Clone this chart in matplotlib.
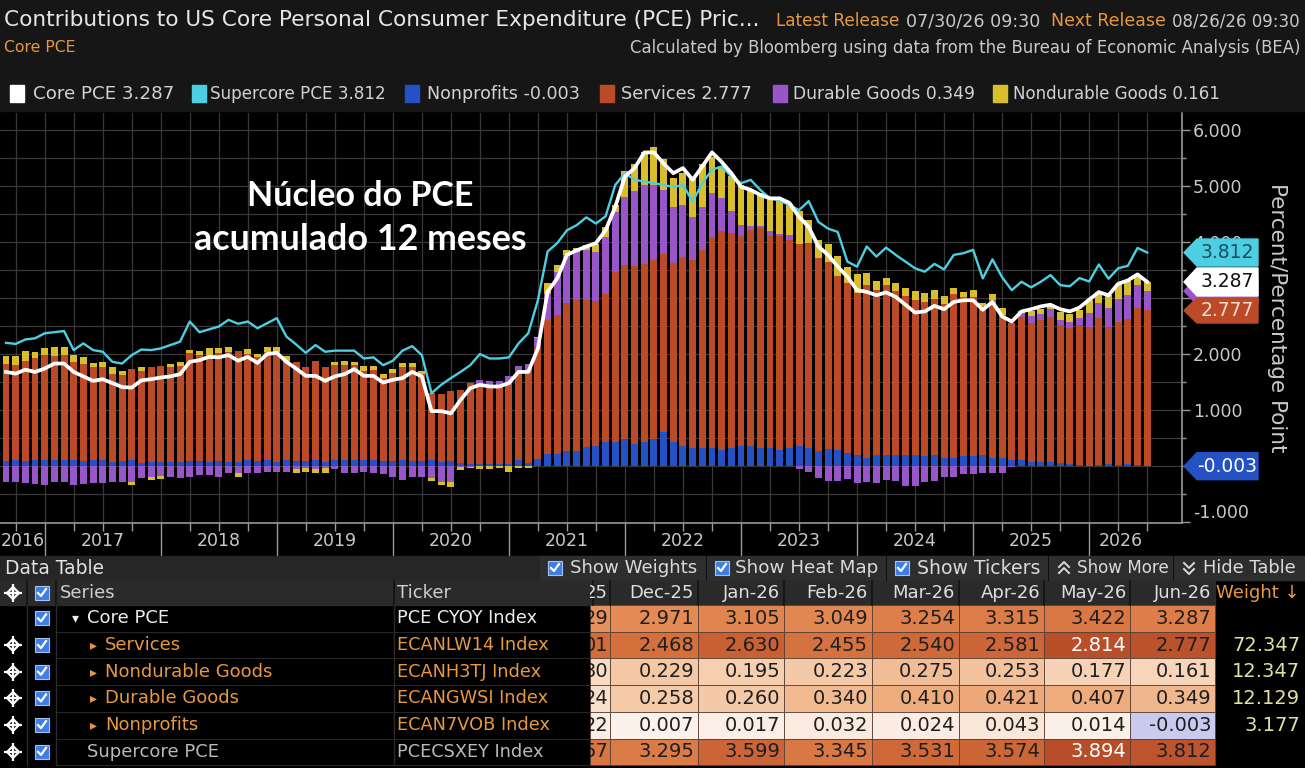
import numpy as np
import pandas as pd
import matplotlib
matplotlib.use("Agg")
import matplotlib.pyplot as plt
from matplotlib.patches import Rectangle, Polygon
from matplotlib.colors import LinearSegmentedColormap
from matplotlib.transforms import Bbox, blended_transform_factory

plt.rcParams['font.family'] = ['DejaVu Sans']

# ---------------- data ----------------
start_month = "2016-08"

core = [
    1.68, 1.65, 1.72, 1.68, 1.74, 1.83, 1.83, 1.68, 1.60, 1.52,
    1.55, 1.48, 1.41, 1.40, 1.53, 1.55, 1.58, 1.60, 1.64, 1.86,
    1.89, 1.95, 1.94, 1.98, 1.88, 1.95, 1.84, 2.00, 2.02, 1.86,
    1.74, 1.61, 1.61, 1.52, 1.60, 1.64, 1.73, 1.61, 1.61, 1.49,
    1.54, 1.57, 1.68, 1.60, 0.98, 0.98, 0.94, 1.18, 1.39, 1.45,
    1.42, 1.42, 1.48, 1.68, 1.68, 2.10, 3.11, 3.35, 3.77, 3.85,
    3.92, 3.98, 4.21, 4.63, 5.17, 5.32, 5.60, 5.60, 5.40, 5.23,
    5.32, 5.11, 5.35, 5.60, 5.43, 5.23, 4.99, 4.93, 4.84, 4.78,
    4.78, 4.70, 4.45, 4.27, 3.92, 3.77, 3.56, 3.38, 3.14, 3.11,
    3.05, 3.10, 3.02, 2.88, 2.74, 2.76, 2.86, 2.80, 2.93, 2.96,
    2.96, 2.79, 2.93, 2.67, 2.58, 2.76, 2.80, 2.85, 2.88, 2.80,
    2.76, 2.829, 2.971, 3.105, 3.049, 3.254, 3.315, 3.422, 3.287]

supercore = [
    2.20, 2.18, 2.26, 2.28, 2.37, 2.39, 2.41, 2.07, 2.19, 2.07,
    2.04, 1.86, 1.83, 1.98, 2.08, 2.07, 2.10, 2.16, 2.22, 2.58,
    2.39, 2.44, 2.49, 2.61, 2.54, 2.58, 2.46, 2.55, 2.64, 2.31,
    2.17, 2.02, 2.16, 2.04, 2.06, 2.06, 2.06, 1.92, 1.94, 1.80,
    1.88, 2.06, 2.14, 1.98, 1.30, 1.45, 1.57, 1.68, 1.80, 2.00,
    1.92, 1.92, 1.94, 2.19, 2.37, 2.96, 3.83, 3.98, 4.21, 4.30,
    4.44, 4.33, 4.46, 5.02, 5.23, 5.11, 5.08, 5.05, 5.02, 4.98,
    5.02, 4.72, 5.05, 5.29, 5.35, 5.17, 5.05, 5.11, 4.93, 4.78,
    4.74, 4.66, 4.57, 4.73, 4.36, 4.24, 4.18, 3.65, 3.56, 3.92,
    3.74, 3.90, 3.77, 3.65, 3.53, 3.47, 3.61, 3.51, 3.77, 3.80,
    3.86, 3.35, 3.69, 3.37, 3.14, 3.29, 3.19, 3.29, 3.41, 3.23,
    3.21, 3.357, 3.295, 3.599, 3.345, 3.531, 3.574, 3.894, 3.812]

nonprofits = [
    0.09, 0.10, 0.09, 0.11, 0.11, 0.10, 0.11, 0.10, 0.09, 0.10,
    0.10, 0.08, 0.09, 0.10, 0.06, 0.07, 0.07, 0.08, 0.08, 0.09,
    0.09, 0.08, 0.09, 0.08, 0.07, 0.10, 0.09, 0.10, 0.08, 0.10,
    0.09, 0.09, 0.10, 0.08, 0.10, 0.11, 0.10, 0.10, 0.10, 0.09,
    0.09, 0.10, 0.09, 0.09, 0.10, 0.07, 0.09, 0.05, 0.04, 0.04,
    0.03, 0.03, 0.04, 0.10, 0.06, 0.12, 0.21, 0.21, 0.26, 0.26,
    0.34, 0.36, 0.43, 0.43, 0.48, 0.40, 0.43, 0.49, 0.61, 0.43,
    0.35, 0.33, 0.32, 0.32, 0.29, 0.32, 0.35, 0.35, 0.32, 0.32,
    0.29, 0.32, 0.35, 0.32, 0.26, 0.30, 0.29, 0.24, 0.20, 0.14,
    0.19, 0.19, 0.20, 0.20, 0.19, 0.17, 0.20, 0.14, 0.15, 0.18,
    0.18, 0.20, 0.15, 0.14, 0.11, 0.11, 0.08, 0.08, 0.08, 0.06,
    0.04, 0.022, 0.007, 0.017, 0.032, 0.024, 0.043, 0.014, -0.003]

services = [
    1.73, 1.71, 1.78, 1.81, 1.87, 1.87, 1.88, 1.75, 1.73, 1.66,
    1.67, 1.56, 1.54, 1.64, 1.64, 1.70, 1.72, 1.68, 1.70, 1.92,
    1.90, 1.91, 1.93, 1.96, 1.98, 1.90, 1.85, 1.93, 1.95, 1.78,
    1.77, 1.68, 1.77, 1.68, 1.71, 1.70, 1.70, 1.60, 1.61, 1.49,
    1.57, 1.67, 1.68, 1.55, 1.20, 1.22, 1.25, 1.30, 1.45, 1.40,
    1.40, 1.40, 1.40, 1.57, 1.63, 2.00, 2.39, 2.49, 2.65, 2.71,
    2.63, 2.59, 2.65, 3.04, 3.11, 3.17, 3.18, 3.18, 3.18, 3.19,
    3.39, 3.35, 3.54, 3.77, 3.90, 3.84, 3.75, 3.87, 3.93, 3.78,
    3.81, 3.72, 3.61, 3.66, 3.45, 3.34, 3.10, 3.02, 2.89, 3.10,
    2.95, 3.04, 2.93, 2.83, 2.77, 2.75, 2.78, 2.76, 2.92, 2.83,
    2.83, 2.65, 2.81, 2.56, 2.45, 2.55, 2.47, 2.52, 2.58, 2.45,
    2.42, 2.501, 2.468, 2.630, 2.455, 2.540, 2.581, 2.814, 2.777]

durable = [
    -0.28, -0.28, -0.30, -0.32, -0.34, -0.28, -0.28, -0.34, -0.33, -0.30,
    -0.30, -0.28, -0.28, -0.28, -0.22, -0.19, -0.18, -0.19, -0.22, -0.19,
    -0.16, -0.16, -0.19, -0.13, -0.13, -0.12, -0.13, -0.10, -0.10, -0.10,
    -0.05, -0.03, -0.05, -0.04, -0.05, -0.12, -0.12, -0.10, -0.12, -0.15,
    -0.20, -0.25, -0.20, -0.20, -0.22, -0.28, -0.28, -0.02, -0.01, 0.09,
    0.09, 0.09, 0.16, 0.12, 0.13, 0.16, 0.48, 0.77, 0.86, 0.85,
    0.89, 0.88, 1.01, 1.07, 1.22, 1.34, 1.40, 1.34, 1.13, 1.01,
    0.92, 0.77, 0.77, 0.79, 0.60, 0.39, 0.21, 0.06, 0.03, 0.09,
    0.05, 0.09, -0.05, -0.10, -0.21, -0.27, -0.27, -0.24, -0.30, -0.29,
    -0.30, -0.25, -0.27, -0.36, -0.36, -0.29, -0.26, -0.20, -0.20, -0.14,
    -0.14, -0.12, -0.12, -0.13, -0.02, 0.07, 0.13, 0.11, 0.15, 0.10,
    0.12, 0.124, 0.258, 0.260, 0.340, 0.410, 0.421, 0.407, 0.349]

nondurable = [
    0.15, 0.15, 0.18, 0.11, 0.12, 0.15, 0.14, 0.14, 0.12, 0.08,
    0.09, 0.12, 0.07, -0.06, 0.06, -0.06, -0.06, 0.06, 0.08, 0.07,
    0.06, 0.12, 0.09, 0.09, -0.07, 0.09, 0.06, 0.09, 0.09, 0.09,
    -0.08, -0.08, -0.08, -0.08, 0.05, 0.06, 0.06, 0.09, 0.07, 0.07,
    0.08, 0.07, 0.07, 0.06, -0.05, -0.06, -0.09, -0.06, -0.03, -0.05,
    -0.06, -0.04, -0.10, -0.03, -0.03, 0.03, 0.18, 0.12, 0.09, 0.08,
    0.09, 0.14, 0.18, 0.12, 0.45, 0.48, 0.60, 0.68, 0.57, 0.51,
    0.57, 0.68, 0.77, 0.63, 0.57, 0.63, 0.71, 0.65, 0.60, 0.60,
    0.61, 0.54, 0.60, 0.42, 0.33, 0.33, 0.36, 0.30, 0.33, 0.21,
    0.17, 0.13, 0.13, 0.15, 0.16, 0.17, 0.17, 0.13, 0.11, 0.10,
    0.13, 0.06, 0.12, 0.12, 0.00, 0.04, 0.08, 0.10, 0.05, 0.14,
    0.14, 0.130, 0.229, 0.195, 0.223, 0.275, 0.253, 0.177, 0.161]

weights = [72.347, 12.347, 12.129, 3.177]
y_ticks = [-1, 0, 1, 2, 3, 4, 5, 6]
hidden_tick_labels = [0, 3]   # covered by the value tags in the reference

title = "Contributions to US Core Personal Consumer Expenditure (PCE) Pric..."
subtitle = "Core PCE"
source = "Calculated by Bloomberg using data from the Bureau of Economic Analysis (BEA)"
latest_release = "07/30/26 09:30"
next_release = "08/26/26 09:30"
ylabel = "Percent/Percentage Point"
annotation = ["Núcleo do PCE", "acumulado 12 meses"]

table_series = ["Core PCE", "Services", "Nondurable Goods", "Durable Goods", "Nonprofits", "Supercore PCE"]
table_tickers = ["PCE CYOY Index", "ECANLW14 Index", "ECANH3TJ Index", "ECANGWSI Index",
                 "ECAN7VOB Index", "PCECSXEY Index"]

# ---------------- styles ----------------
C_SUPER = '#4ccfe2'
C_NONPROF = '#2452c4'
C_SERV = '#bd4a27'
C_DUR = '#9856c8'
C_NONDUR = '#d8be2c'
AMBER = '#e8983f'
GRAYTXT = '#c9c9c9'

W, H, DPI = 1305, 768, 100
fig = plt.figure(figsize=(W / DPI, H / DPI), dpi=DPI, facecolor='black')

AX_L, AX_R, AX_T, AX_B = 0, 1182, 113, 523
ax = fig.add_axes([AX_L / W, 1 - AX_B / H, (AX_R - AX_L) / W, (AX_B - AX_T) / H])
ax.set_facecolor('black')
n = len(core)
x = np.arange(n)
XMIN, XMAX = -0.62, 121.6
YMIN, YMAX = -1.018, 6.304
ax.set_xlim(XMIN, XMAX)
ax.set_ylim(YMIN, YMAX)

months = pd.period_range(start_month, periods=n, freq='M')
mnum = np.array([p.month for p in months])
yrs = np.array([p.year for p in months])
quarter_idx = x[mnum % 3 == 0]
year_idx = x[mnum == 12]

GRID = '#383838'
for v in np.arange(-0.5, 6.3, 0.5):
    ax.axhline(v, color=GRID, lw=0.9, zorder=0)
for q in quarter_idx:
    ax.axvline(q, color=GRID, lw=0.9, zorder=0)

pos = np.zeros(n)
neg = np.zeros(n)
for vals, col in [(nonprofits, C_NONPROF), (services, C_SERV), (durable, C_DUR), (nondurable, C_NONDUR)]:
    v = np.asarray(vals, float)
    bottom = np.where(v >= 0, pos, neg)
    ax.bar(x, v, bottom=bottom, width=0.72, color=col, linewidth=0, zorder=2)
    pos += np.clip(v, 0, None)
    neg += np.clip(v, None, 0)

ax.plot(x, supercore, color=C_SUPER, lw=1.7, zorder=3)
ax.plot(x, core, color='white', lw=2.7, zorder=4)

for s in ['left', 'top']:
    ax.spines[s].set_visible(False)
for s in ['right', 'bottom']:
    ax.spines[s].set_color('#9a9a9a')
    ax.spines[s].set_linewidth(1.2)
ax.yaxis.tick_right()
ax.set_yticks(y_ticks)
ax.set_yticklabels(['' if v in hidden_tick_labels else f'{v:.3f}' for v in y_ticks])
ax.set_yticks(np.arange(-0.5, 6.0, 1.0), minor=True)
ax.tick_params(axis='y', which='major', colors='#9a9a9a', labelcolor=GRAYTXT,
               length=6, width=1, labelsize=12.5, pad=2)
ax.tick_params(axis='y', which='minor', colors='#9a9a9a', length=3, width=1)
ax.get_yticklabels()[0].set_va('bottom')
ax.set_xticks(year_idx)
ax.set_xticklabels([])
ax.set_xticks(quarter_idx, minor=True)
ax.tick_params(axis='x', which='major', colors='#9a9a9a', length=24, width=1)
ax.tick_params(axis='x', which='minor', colors='#9a9a9a', length=6, width=1)

btrans = blended_transform_factory(ax.transData, ax.transAxes)
years = sorted(set(yrs))
for yv in years:
    idx = x[yrs == yv]
    if yv == years[0]:
        left, right = XMIN, idx[-1]
    elif yv == years[-1]:
        left, right = idx[0] - 1, idx[-1] + 0.5
    else:
        left, right = idx[0] - 1, idx[-1]
    ax.text((left + right) / 2, -0.045, str(yv), transform=btrans, ha='center', va='center',
            color=GRAYTXT, fontsize=12.5)

# ---------------- overlay (pixel coordinates) ----------------
ov = fig.add_axes([0, 0, 1, 1], zorder=10)
ov.set_xlim(0, W)
ov.set_ylim(H, 0)
ov.axis('off')
R = fig.canvas.get_renderer()


def T(xp, yp, s, size=12.5, color=GRAYTXT, ha='left', va='center', fit=None, **kw):
    t = ov.text(xp, yp, s, fontsize=size, color=color, ha=ha, va=va, **kw)
    if fit:
        w = t.get_window_extent(renderer=R).width
        t.set_fontsize(size * fit / w)
    return t


def ypx(v):
    return H - ax.transData.transform((0, v))[1]


# header
ov.add_patch(Rectangle((0, 0), W, 111, color='#161616', zorder=0))
T(4, 20, title, 14, '#e6e6e6', fit=756)
T(776, 21, 'Latest Release', 12.5, AMBER, fit=124)
T(906, 21, latest_release, 12.5, GRAYTXT, fit=134)
T(1051, 21, 'Next Release', 12.5, AMBER, fit=115)
T(1300, 21, next_release, 12.5, GRAYTXT, ha='right', fit=128)
T(4, 48, subtitle, 12.5, AMBER, fit=72)
T(1300, 48, source, 12.5, GRAYTXT, ha='right', fit=676)

legend_items = [
    ('Core PCE', core, 'white', 10, 33, 142),
    ('Supercore PCE', supercore, C_SUPER, 192, 210, 177),
    ('Nonprofits', nonprofits, C_NONPROF, 405, 427, 153),
    ('Services', services, C_SERV, 600, 621, 131),
    ('Durable Goods', durable, C_DUR, 773, 793, 182),
    ('Nondurable Goods', nondurable, C_NONDUR, 993, 1013, 209),
]
for name, ser, col, sqx, tx, tw in legend_items:
    ov.add_patch(Rectangle((sqx, 85), 14, 17, color=col, zorder=2))
    T(tx, 94, f'{name} {ser[-1]:.3f}', 12.5, '#d2d2d2', fit=tw)

# annotation
T(360, 196, annotation[0], 24, 'white', ha='center', weight='bold', family='Lato', fit=226)
T(360, 240, annotation[1], 24, 'white', ha='center', weight='bold', family='Lato', fit=334)

# y label
ov.text(1277, 318, ylabel, rotation=270, ha='center', va='center', color=GRAYTXT, fontsize=15.5)


# right-hand value tags
def tag(v, s, bg, fg, h=27):
    yc = ypx(v)
    pts = [(1184, yc), (1197, yc - h / 2), (1258, yc - h / 2), (1258, yc + h / 2), (1197, yc + h / 2)]
    ov.add_patch(Polygon(pts, closed=True, color=bg, zorder=5))
    if s:
        ov.text(1227, yc, s, ha='center', va='center', color=fg, fontsize=13.5, zorder=6)


tag(nonprofits[-1] + services[-1] + durable[-1], '', C_DUR, 'white')
tag(services[-1], f'{services[-1]:.3f}', C_SERV, '#f3ddd3', h=25)
tag(core[-1], f'{core[-1]:.3f}', 'white', '#111111', h=28)
tag(supercore[-1], f'{supercore[-1]:.3f}', C_SUPER, '#1d4d63', h=27)
tag(nonprofits[-1], f'{nonprofits[-1]:.3f}', C_NONPROF, 'white', h=27)

# ---------------- data table ----------------
def checkbox(xc, yc):
    ov.add_patch(Rectangle((xc - 7, yc - 7), 14, 14, fc='#3d7fe6', ec='#a8c4ee', lw=0.8, zorder=3))
    ov.plot([xc - 4, xc - 1, xc + 4], [yc, yc + 3, yc - 4], color='white', lw=1.6, zorder=4)


def crosshair(xc, yc):
    ov.plot(xc, yc, marker='D', ms=6, mfc='none', mec='white', mew=1.6, zorder=4)
    ov.plot(xc, yc, marker='+', ms=13, mec='white', mew=1.6, zorder=4)


ov.add_patch(Rectangle((0, 556), 540, 24, color='#262626', zorder=1))
T(5, 568, 'Data Table', 13, '#e2e2e2', fit=99)
buttons = [(540, 705, 'Show Weights', 'check', 570, 127),
           (707, 885, 'Show Heat Map', 'check', 735, 143),
           (887, 1047, 'Show Tickers', 'check', 917, 123),
           (1049, 1172, 'Show More', 'up', 1077, 92),
           (1174, 1305, 'Hide Table', 'down', 1203, 93)]
for bx0, bx1, label, kind, tx, tw in buttons:
    ov.add_patch(Rectangle((bx0, 556), bx1 - bx0, 24, color='#2e2e2e', zorder=1))
    T(tx, 568, label, 13, '#dadada', fit=tw)
    cx = bx0 + 15
    if kind == 'check':
        checkbox(cx, 568)
    else:
        for off in (-3, 3):
            if kind == 'up':
                ov.plot([cx - 5, cx, cx + 5], [568 + off + 2, 568 + off - 3, 568 + off + 2], color='#dadada', lw=1.4)
            else:
                ov.plot([cx - 5, cx, cx + 5], [568 + off - 2, 568 + off + 3, 568 + off - 2], color='#dadada', lw=1.4)

# header row
HR0, HR1 = 581, 605
ov.add_patch(Rectangle((0, HR0), 1215, HR1 - HR0, color='#2a2a2a', zorder=1))
crosshair(13, 593)
checkbox(42, 593)
T(60, 593, 'Series', 13, '#cfcfcf')
T(397, 593, 'Ticker', 13, '#cfcfcf')
T(1300, 593, 'Weight ↓', 13, AMBER, ha='right')

col_edges = [590, 610, 698, 784, 872, 959, 1044, 1130, 1215]
tbl_months = [p.strftime('%b-%y') for p in months[-8:]]
clip_box = Bbox.from_extents(590, 0, 610, H)
for j, lab in enumerate(tbl_months):
    if j == 0:
        t = T(col_edges[1] - 2, 593, lab[-2:], 13, '#dedede', ha='right')
        t.set_clip_box(clip_box)
        t.set_clip_on(True)
    else:
        T(col_edges[j + 1] - 4, 593, lab, 13, '#dedede', ha='right')
for e in [27, 56, 394, 593] + col_edges[1:-1]:
    ov.plot([e, e], [HR0, HR1], color='#121212', lw=1.2, zorder=2)

heat = LinearSegmentedColormap.from_list('heat', [
    (0.0, '#fbf3ee'), (0.25, '#f4c9a6'), (0.4, '#eda97a'), (0.55, '#e38a55'),
    (0.7, '#d5703d'), (0.9, '#bc522c'), (1.0, '#a84222')])
row_series = [core, services, nondurable, durable, nonprofits, supercore]
row_norm = [(0.5, 5.0), (1.37, 2.94), (0.0, 0.9), (0.0, 1.05), (0.0, 0.6), (2.01, 4.05)]
ROW_H = 26.7
TOP = 605
for r in range(6):
    y0 = TOP + r * ROW_H
    yc = y0 + ROW_H / 2
    if r > 0:
        crosshair(13, yc)
    checkbox(42, yc)
    if r == 0:
        col, ax_x, nx, arrow = '#eeeeee', 72, 87, '▾'
    elif r < 5:
        col, ax_x, nx, arrow = AMBER, 90, 105, '▸'
    else:
        col, ax_x, nx, arrow = '#b9b9b9', None, 87, None
    if arrow:
        T(ax_x, yc, arrow, 10, col)
    T(nx, yc, table_series[r], 13, col)
    T(397, yc, table_tickers[r], 12.8, col)
    ov.plot([56, 590], [y0 + ROW_H, y0 + ROW_H], color='#262626', lw=0.8, zorder=2)
    lo, hi = row_norm[r]
    vals = row_series[r][-8:]
    for j, v in enumerate(vals):
        x0, x1 = col_edges[j], col_edges[j + 1]
        tt = (v - lo) / (hi - lo)
        fc = '#c9cbee' if v < 0 else heat(np.clip(tt, 0, 1))
        ov.add_patch(Rectangle((x0, y0), x1 - x0, ROW_H, fc=fc, ec='#5a4034', lw=0.6, zorder=1))
        tc = 'white' if tt > 0.905 else '#1e1e1e'
        if j == 0:
            t = T(x1 - 2, yc, f'{v:.3f}'[-2:], 14, tc, ha='right')
            t.set_clip_box(clip_box)
            t.set_clip_on(True)
        else:
            T(x1 - 4, yc, f'{v:.3f}', 14, tc, ha='right')
    if 1 <= r <= 4:
        T(1300, yc, f'{weights[r - 1]:.3f}', 14, '#dfe29e', ha='right')
for e in [27, 56, 394]:
    ov.plot([e, e], [TOP, TOP + 6 * ROW_H], color='#2a2a2a', lw=1.0, zorder=2)

fig.savefig('out.png', dpi=DPI, facecolor='black')
